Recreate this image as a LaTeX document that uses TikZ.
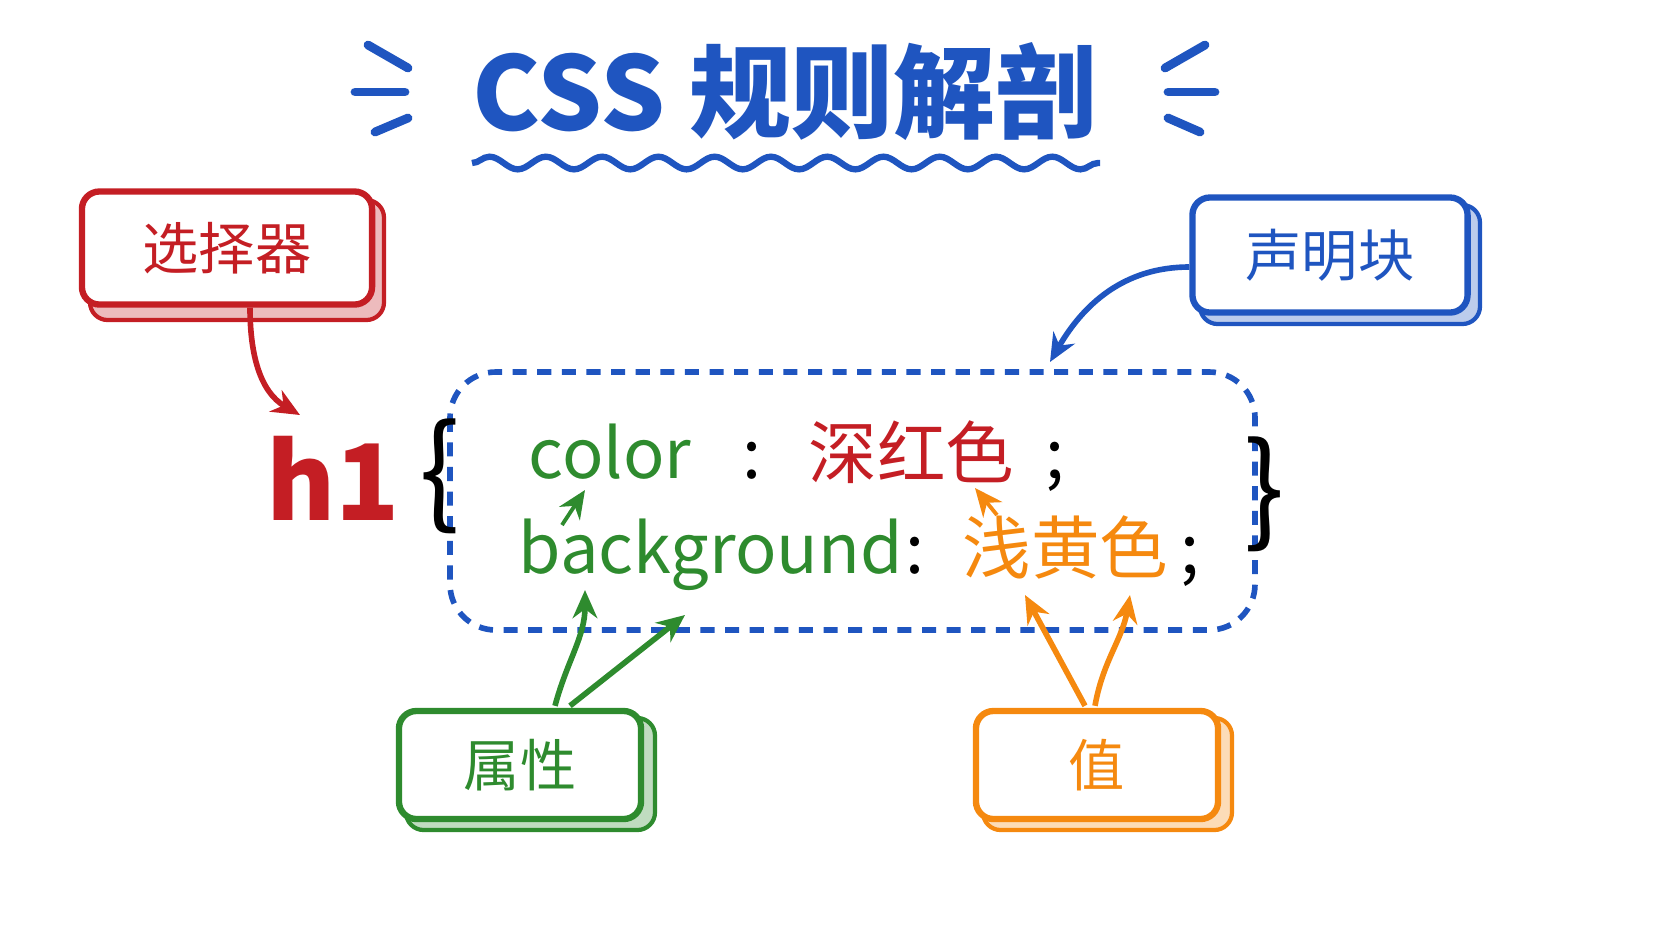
\documentclass[tikz,border=0pt]{standalone}
\usepackage{fontspec}
\setmainfont{Noto Sans CJK SC}
\usetikzlibrary{decorations.pathmorphing,arrows.meta}
\definecolor{cred}{HTML}{C41E24}
\definecolor{cblue}{HTML}{1F55C0}
\definecolor{cgreen}{HTML}{2E8B2E}
\definecolor{corange}{HTML}{F5890F}
\tikzset{
 lbl/.style={draw=#1,line width=1.8pt,rounded corners=5pt,fill=white,text=#1,font=\fontsize{16}{16}\selectfont,inner sep=0pt},
 shadow/.style={fill=#1!30,draw=#1,line width=1.2pt,rounded corners=5pt},
 arr/.style={draw=#1,line width=1.6pt,-{Stealth[length=8pt,width=7pt]}},
 code/.style={font=\fontsize{19.5}{20}\selectfont,inner sep=0pt,anchor=base west}
}
\begin{document}
\begin{tikzpicture}[x=0.01cm,y=-0.01cm]
\useasboundingbox (0,0) rectangle (1672,941);
% title
\node[text=cblue,font=\fontsize{29}{29}\selectfont\bfseries] (title) at (785,92) {CSS 规则解剖};
\draw[cblue,line width=1.8pt,decorate,decoration={snake,amplitude=1.8pt,segment length=16pt}] (472,163) -- (1100,163);
\foreach \a/\b/\c/\d in {368/45/408/68, 355/92/405/92, 375/132/408/118}
 \draw[cblue,line width=2.5pt,line cap=round] (\a,\b) -- (\c,\d);
\foreach \a/\b/\c/\d in {1205/45/1165/68, 1215/92/1168/92, 1200/132/1168/118}
 \draw[cblue,line width=2.5pt,line cap=round] (\a,\b) -- (\c,\d);
% boxes
\fill[shadow=cred] (90,200) rectangle (384,320);
\node[lbl=cred,minimum width=2.9cm,minimum height=1.13cm] (sel) at (227,248) {选择器};
\fill[shadow=cblue] (1200,205) rectangle (1480,324);
\node[lbl=cblue,minimum width=2.75cm,minimum height=1.15cm] (decl) at (1330,255) {声明块};
\fill[shadow=cgreen] (406,718) rectangle (655,830);
\node[lbl=cgreen,minimum width=2.42cm,minimum height=1.08cm] (prop) at (520,765) {属性};
\fill[shadow=corange] (983,718) rectangle (1232,830);
\node[lbl=corange,minimum width=2.42cm,minimum height=1.08cm] (val) at (1097,765) {值};
% dashed block
\draw[cblue,line width=1.6pt,dash pattern=on 4pt off 3pt,rounded corners=13pt] (450,372) rectangle (1255,630);
% code
\node[text=cred,font=\fontsize{30}{30}\selectfont\bfseries] (h1) at (333,478) {h1};
\node[font=\fontsize{34}{34}\selectfont] (lb) at (440,476) {\{};
\node[font=\fontsize{34}{34}\selectfont] (rb) at (1265,494) {\}};
\node[code,text=cgreen] (color) at (528,478) {color};
\node[code] (c1) at (742,478) {:};
\node[code,text=cred] (red) at (808,478) {深红色};
\node[code] (s1) at (1045,478) {;};
\node[code,text=cgreen] (bg) at (518,573) {background};
\node[code] (c2) at (905,573) {:};
\node[code,text=corange] (yel) at (962,573) {浅黄色};
\node[code] (s2) at (1180,573) {;};
% arrows
\coordinate (a1) at (300,415);
\draw[arr=cred] (sel.south) ++(23,0) to[out=-90,in=150] (a1);
\coordinate (a2) at (1050,362);
\draw[arr=cblue] (decl.west) ++(0,12) to[out=180,in=60] (a2);
\coordinate (g1) at (585,590); \coordinate (g2) at (685,615);
\draw[arr=cgreen] (prop.north) ++(35,-2) to[out=75,in=-90] (g1);
\draw[arr=cgreen] (prop.north) ++(50,-2) -- (g2);
\coordinate (g3s) at (562,525); \coordinate (g3) at (585,490);
\draw[arr=cgreen,line width=1.1pt] (g3s) -- (g3);
\coordinate (o3s) at (997,515); \coordinate (o3) at (975,488);
\draw[arr=corange,line width=1.1pt] (o3s) -- (o3);
\coordinate (o1) at (1025,595); \coordinate (o2) at (1130,595);
\draw[arr=corange] (val.north) ++(-12,-2) -- (o1);
\draw[arr=corange] (val.north) ++(-2,-2) to[out=80,in=-100] (o2);
\end{tikzpicture}
\end{document}
